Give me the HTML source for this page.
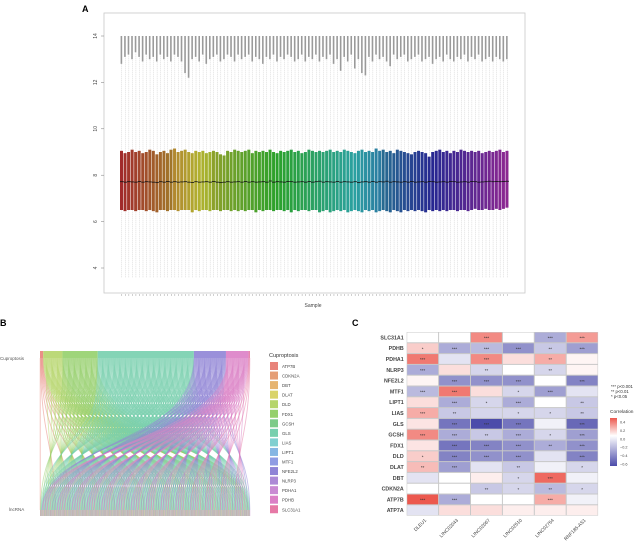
<!DOCTYPE html>
<html><head><meta charset="utf-8"><style>
body{margin:0;background:#fff;font-family:"Liberation Sans",sans-serif;}
svg{display:block}
text{font-family:"Liberation Sans",sans-serif}
</style></head><body>
<svg id="fig" width="643" height="549" viewBox="0 0 643 549">
<text x="82" y="12" font-size="9" font-weight="bold">A</text>
<text x="0" y="326" font-size="9" font-weight="bold">B</text>
<text x="352" y="326" font-size="9" font-weight="bold">C</text>
<g id="pa"></g>
<g id="pb"></g>
<g id="pc"></g>
</svg>
<script>
// ---------- Panel A data ----------
const q3Vals=[9.05,8.95,9.0,9.1,9.0,9.05,8.95,9.0,9.1,9.05,8.9,9.0,9.05,8.95,9.1,9.15,9.0,9.05,9.1,9.0,8.95,9.05,9.0,9.05,8.95,9.0,9.05,9.0,8.9,8.85,9.05,9.0,9.1,9.05,9.0,9.05,9.1,8.95,9.05,9.0,9.05,9.0,9.1,9.0,8.95,9.05,9.0,9.05,9.1,9.0,9.05,8.95,9.0,9.1,9.05,9.0,9.05,9.0,9.05,9.1,9.0,9.05,9.0,9.1,9.05,9.0,8.95,9.05,9.1,9.0,9.05,9.0,9.15,9.05,9.1,9.0,9.05,8.95,9.1,9.05,9.0,8.95,8.9,9.0,9.05,9.0,8.95,8.8,9.0,9.05,9.1,9.0,9.05,8.95,9.05,9.0,9.1,9.05,9.0,9.05,9.0,9.05,8.95,9.0,9.05,9.0,9.05,9.1,9.0,9.05];
const q1Vals=[6.5,6.45,6.5,6.5,6.45,6.5,6.5,6.45,6.5,6.45,6.4,6.5,6.5,6.45,6.5,6.5,6.45,6.5,6.5,6.5,6.4,6.5,6.45,6.5,6.5,6.45,6.5,6.5,6.45,6.5,6.5,6.45,6.5,6.45,6.5,6.45,6.5,6.5,6.4,6.5,6.45,6.5,6.5,6.45,6.5,6.5,6.45,6.5,6.4,6.5,6.45,6.5,6.5,6.45,6.5,6.5,6.4,6.45,6.5,6.4,6.45,6.5,6.45,6.5,6.4,6.45,6.5,6.45,6.4,6.5,6.45,6.5,6.4,6.45,6.5,6.45,6.4,6.5,6.45,6.4,6.5,6.45,6.5,6.45,6.5,6.45,6.4,6.5,6.45,6.5,6.45,6.5,6.45,6.5,6.5,6.45,6.5,6.5,6.45,6.5,6.55,6.5,6.5,6.55,6.5,6.5,6.55,6.5,6.55,6.6];
const medVals=[7.72,7.7,7.72,7.71,7.7,7.73,7.7,7.72,7.71,7.7,7.68,7.72,7.7,7.73,7.7,7.72,7.7,7.71,7.72,7.7,7.69,7.72,7.7,7.71,7.72,7.7,7.73,7.7,7.68,7.7,7.72,7.7,7.71,7.72,7.7,7.73,7.7,7.72,7.7,7.71,7.72,7.7,7.75,7.7,7.72,7.71,7.7,7.73,7.72,7.7,7.71,7.72,7.7,7.73,7.7,7.72,7.74,7.7,7.72,7.71,7.7,7.73,7.7,7.72,7.71,7.7,7.72,7.68,7.71,7.72,7.7,7.73,7.7,7.72,7.71,7.74,7.7,7.72,7.71,7.7,7.72,7.7,7.73,7.7,7.71,7.72,7.7,7.73,7.72,7.7,7.71,7.72,7.7,7.73,7.72,7.7,7.71,7.72,7.7,7.73,7.72,7.7,7.71,7.72,7.74,7.72,7.73,7.72,7.73,7.74];
const upperWhisk=[12.8,13.1,13.2,13.0,13.3,13.1,12.9,13.2,13.0,13.1,12.9,13.2,13.0,13.1,12.9,13.2,13.1,12.9,12.4,12.2,13.0,13.1,12.9,13.2,12.8,13.0,13.1,13.2,12.9,13.0,13.2,13.1,12.9,13.2,13.0,13.1,13.2,12.9,13.1,13.0,12.8,13.1,13.0,13.2,12.9,13.1,13.0,13.2,13.1,12.9,13.0,13.2,12.9,13.1,13.0,13.2,12.9,13.1,13.0,13.2,12.8,13.0,12.5,13.1,12.9,13.2,12.6,13.0,12.4,12.3,13.1,12.9,13.2,13.0,13.1,12.9,12.7,13.2,13.0,13.1,13.2,12.9,13.0,13.1,13.2,12.9,13.0,13.1,12.8,13.0,13.1,12.9,13.2,13.0,12.9,13.1,13.0,13.2,12.9,13.1,13.0,13.2,12.9,13.0,13.1,12.9,13.1,13.0,12.9,13.0];
const yTicksA=[4,6,8,10,12,14];

// ---------- Panel B data ----------
const genes=["ATP7B","CDKN2A","DBT","DLAT","DLD","FDX1","GCSH","GLS","LIAS","LIPT1","MTF1","NFE2L2","NLRP3","PDHA1","PDHB","SLC31A1"];
const geneColors=["#e8837a","#e59e76","#e6b470","#d9d36a","#b5d56a","#95d06c","#7ccb88","#77cfae","#80cfd0","#86b6e3","#8f9ce3","#8f84d6","#ac8ad6","#c98ad3","#db7fc6","#e679a6"];
const linkCounts=[2,0,0,0,12,22,0,60,0,0,0,20,0,0,14,1];

// ---------- Panel C data ----------
const rowsC=["SLC31A1","PDHB","PDHA1","NLRP3","NFE2L2","MTF1","LIPT1","LIAS","GLS","GCSH","FDX1","DLD","DLAT","DBT","CDKN2A","ATP7B","ATP7A"];
const colsC=["DLEU1","LINC02043","LINC02067","LINC02510","LINC02754","RNF185-AS1"];
const corrVals=[
[0,0,0.35,0,-0.3,0.3],
[0.15,-0.3,-0.25,-0.4,-0.2,-0.35],
[0.4,-0.1,0.35,0.1,0.25,0.03],
[-0.3,0.1,-0.15,0,-0.15,0.03],
[0.03,-0.4,-0.4,-0.4,0,-0.45],
[-0.25,0.4,0.1,-0.15,-0.35,-0.1],
[0.1,-0.3,-0.15,-0.3,0,-0.2],
[0.25,-0.2,-0.15,-0.15,-0.15,-0.2],
[0.08,-0.5,-0.65,-0.5,-0.05,-0.55],
[0.35,-0.3,-0.2,-0.3,-0.15,-0.35],
[0.08,-0.5,-0.45,-0.4,-0.3,-0.4],
[0.15,-0.45,-0.4,-0.4,-0.1,-0.45],
[0.2,-0.35,-0.1,-0.2,-0.05,-0.15],
[-0.1,0,0.05,-0.15,0.45,-0.05],
[0,0,-0.2,-0.15,-0.25,-0.15],
[0.5,-0.3,0,0,0.25,-0.05],
[-0.1,0.1,0.1,0.05,0.05,0.05]];
const sigVals=[
["","","***","","***","***"],
["*","***","***","***","**","***"],
["***","","***","","**",""],
["***","","**","","**",""],
["","***","***","***","","***"],
["***","***","","*","***",""],
["","***","*","***","","**"],
["***","**","","*","*","**"],
["","***","***","***","","***"],
["***","***","**","***","*","***"],
["","***","***","***","**","***"],
["*","***","***","***","","***"],
["**","***","","**","","*"],
["","","","*","***",""],
["","","**","*","**","*"],
["***","***","","","***",""],
["","","","","",""]];
const legendTicksC=[0.4,0.2,0.0,-0.2,-0.4,-0.6];

const NS="http://www.w3.org/2000/svg";
function mk(tag,attrs,parent,txt){const e=document.createElementNS(NS,tag);for(const k in attrs)e.setAttribute(k,attrs[k]);if(txt!==undefined)e.textContent=txt;parent.appendChild(e);return e;}

// ===== Panel A =====
(function(){
const g=document.getElementById('pa');
const f=mk('rect',{x:104,y:13,width:421,height:280,fill:'none',stroke:'#c8c8c8','stroke-width':0.8},g);


const yA=v=>268-(v-4)*23.2;
const n=q3Vals.length, x0=120, x1=509, step=(x1-x0)/n;
const xA=i=>x0+i*step;
for(let i=0;i<n;i++){
  const h=(i/n)*300;
  const col=`hsl(${h},58%,${h>200?36:h>40&&h<70?44:40}%)`;
  const cx=xA(i)+step/2;
  const w=mk('line',{x1:cx,x2:cx,y1:yA(3.6),y2:yA(14),stroke:'#c4c4c4','stroke-width':0.5,'stroke-dasharray':'1,1'},g);
  
  
  const o=mk('rect',{x:xA(i)+0.6,y:yA(14),width:step*0.45,height:yA(upperWhisk[i])-yA(14),fill:'#9a9a9a'},g);
  
  
  const b=mk('rect',{x:xA(i),y:yA(q3Vals[i]),width:step*0.85,height:yA(q1Vals[i])-yA(q3Vals[i]),fill:col},g);
  
  
  const m=mk('line',{x1:xA(i),x2:xA(i)+step,y1:yA(medVals[i]),y2:yA(medVals[i]),stroke:'#111','stroke-width':0.8},g);
  
  
  const t=mk('line',{x1:cx,x2:cx,y1:294,y2:296,stroke:'#888','stroke-width':0.4},g);
  
  
}
yTicksA.forEach(v=>{
  const tk=mk('line',{x1:101,x2:104,y1:yA(v),y2:yA(v),stroke:'#777','stroke-width':0.5},g);
  
  
  const tl=mk('text',{x:97,y:yA(v),'font-size':5,fill:'#444','text-anchor':'middle',transform:`rotate(-90 97 ${yA(v)})`},g,String(v));
  
  
});
const xl=mk('text',{x:313,y:307,'font-size':5,fill:'#444','text-anchor':'middle'},g,'Sample');


})();

// ===== Panel B =====
(function(){
const g=document.getElementById('pb');
const L=40,R=250,T=351,B=510;
const total=linkCounts.reduce((a,b)=>a+b,0);
let cur=L;const segs=[];
linkCounts.forEach((c,i)=>{const w=c/total*(R-L);segs.push([cur,w]);cur+=w;});
const totalLinks=total*4;let li=0;
linkCounts.forEach((c,i)=>{
  const [sx,sw]=segs[i];
  if(sw<=0)return;
  const s=mk('rect',{x:sx,y:T,width:sw,height:7,fill:geneColors[i],opacity:0.9},g);
  
  
  const nl=c*4;
  for(let k=0;k<nl;k++){
    const a=sx+sw*(k+0.5)/nl;
    const b=L+(R-L)*(((li*37)%totalLinks)+0.5)/totalLinks;li++;
    const p=mk('path',{d:`M${a},${T+7} C${a},${T+90} ${b},${B-70} ${b},${B}`,fill:'none',stroke:geneColors[i],'stroke-width':0.9,opacity:0.5},g);
    
    
  }
});
for(let k=0;k<totalLinks;k++){
  const bx=L+(R-L)*k/totalLinks;
  const r=mk('rect',{x:bx,y:B,width:(R-L)/totalLinks+0.2,height:6,fill:geneColors[(k*7)%16],opacity:0.7},g);
  
  
}
const c1=mk('text',{x:0,y:360,'font-size':4.5,fill:'#555'},g,'Cuproptosis');

const c2=mk('text',{x:9,y:511,'font-size':4.5,fill:'#555'},g,'lncRNA');

const lt=mk('text',{x:269,y:357,'font-size':5.5,fill:'#333'},g,'Cuproptosis');

genes.forEach((gn,i)=>{
  const y=362+i*9.55;
  const k=mk('rect',{x:270,y:y,width:8,height:8,fill:geneColors[i]},g);
  
  const t=mk('text',{x:282,y:y+6,'font-size':4.3,fill:'#444'},g,gn);
  
});
})();

// ===== Panel C =====
(function(){
const g=document.getElementById('pc');
const X0=406.7,Y0=332,cw=31.9,ch=10.8;
const colX=j=>X0+j*cw, rowY=i=>Y0+i*ch;
function lerp(a,b,t){return Math.round(a+(b-a)*t);}
function colorOf(v){
  if(v>=0){const t=Math.min(v/0.5,1);return `rgb(${lerp(255,236,t)},${lerp(255,88,t)},${lerp(255,78,t)})`;}
  const t=Math.min(-v/0.65,1);return `rgb(${lerp(255,76,t)},${lerp(255,76,t)},${lerp(255,170,t)})`;
}
const bg=mk('rect',{x:X0,y:Y0,width:cw*6,height:ch*17,fill:'#c8c8c8'},g);

rowsC.forEach((rn,i)=>{
  const rl=mk('text',{x:X0-3,y:rowY(i)+ch/2+2,'font-size':5.3,'font-weight':'bold',fill:'#444','text-anchor':'end'},g,rn);
  
  colsC.forEach((cn,j)=>{
    const c=mk('rect',{x:colX(j)+0.5,y:rowY(i)+0.5,width:cw-1,height:ch-1,fill:colorOf(corrVals[i][j])},g);
    
    if(sigVals[i][j]){
      const s=mk('text',{x:colX(j)+cw/2,y:rowY(i)+ch/2+2.2,'font-size':4.5,fill:'#333','text-anchor':'middle'},g,sigVals[i][j]);
      
    }
  });
});
colsC.forEach((cn,j)=>{
  const x=colX(j)+cw/2+4,y=Y0+ch*17+5;
  const t=mk('text',{x:x,y:y,'font-size':4.8,fill:'#444','text-anchor':'end',transform:`rotate(-45 ${x} ${y})`},g,cn);
  
});
[["***","p<0.001"],["**","p<0.01"],["*","p<0.05"]].forEach((p,i)=>{
  const t=mk('text',{x:611,y:388+i*5,'font-size':4.3,fill:'#333'},g,p[0]+'  '+p[1]);
  
});
const ct=mk('text',{x:610,y:413,'font-size':4.8,fill:'#333'},g,'Correlation');

const defs=mk('defs',{},g);
const lg=mk('linearGradient',{id:'cg',x1:0,y1:0,x2:0,y2:1},defs);
[[0,0.5],[0.37,0],[1,-0.65]].forEach(s=>mk('stop',{offset:s[0],'stop-color':colorOf(s[1])},lg));
const cb=mk('rect',{x:610,y:418,width:7,height:48,fill:'url(#cg)'},g);

const yc=v=>418+(0.5-v)/1.15*48;
legendTicksC.forEach(v=>{
  const t=mk('text',{x:620,y:yc(v)+1.5,'font-size':3.8,fill:'#444'},g,v.toFixed(1).replace('-','\u2212'));
  
});
})();
</script>
</body></html>
